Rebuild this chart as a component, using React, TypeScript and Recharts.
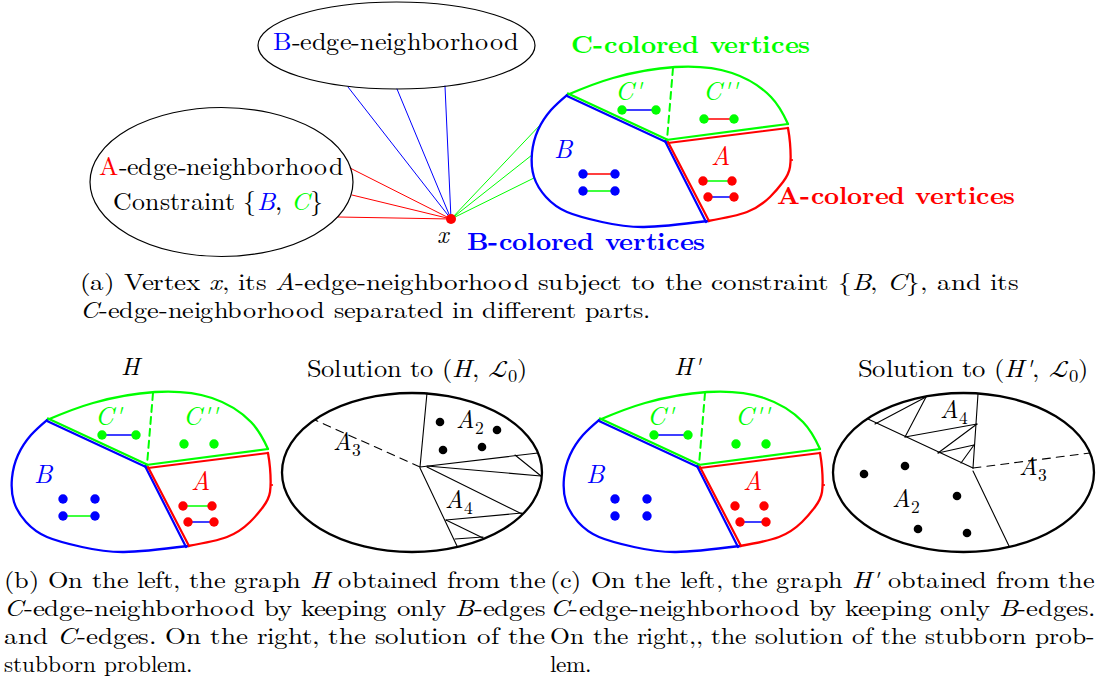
import React from 'react';
import { ComposedChart, Line, Scatter, XAxis, YAxis } from 'recharts';

const W = 1098;
const H = 694;

const RED = '#ff0000';
const BLUE = '#0000ff';
const GREEN = '#00ff00';
const INK = '#000000';
const SERIF = "'LMTight', 'Latin Modern Roman', 'Liberation Serif', serif";
const SERIF_I = "'LMTightI', 'Latin Modern Roman', 'Liberation Serif', serif";
const SERIF_B = "'LMTightB', 'Latin Modern Roman', 'Liberation Serif', serif";
const CALLIG = "'Latin Modern Math', 'Latin Modern Roman', serif";
const COLOR: Record<string, string> = { red: RED, blue: BLUE, green: GREEN, black: INK };

const FONT_CSS = `
@font-face { font-family: 'LMTight'; font-style: normal; font-weight: normal;
  src: local('LMRoman10-Regular'), local('LM Roman 10 Regular'), local('Latin Modern Roman Regular'), local('Latin Modern Roman');
  ascent-override: 88%; descent-override: 24%; line-gap-override: 0%; }
@font-face { font-family: 'LMTightI'; font-style: italic; font-weight: normal;
  src: local('LMRoman10-Italic'), local('LM Roman 10 Italic'), local('Latin Modern Roman Italic');
  ascent-override: 88%; descent-override: 24%; line-gap-override: 0%; }
@font-face { font-family: 'LMTightB'; font-style: normal; font-weight: bold;
  src: local('LMRoman10-Bold'), local('LM Roman 10 Bold'), local('Latin Modern Roman Bold');
  ascent-override: 88%; descent-override: 24%; line-gap-override: 0%; }
`;

// ---------------- panel (a): neighbourhoods of vertex x ----------------
const neighborhoodEllipses = [
  { x: 396.5, y: 45.5, rx: 138.5, ry: 43.5 },
  { x: 221.5, y: 182, rx: 131.5, ry: 74.5 },
];
const vertexX = [{ x: 451, y: 219 }];
const blueEdgeEnds = [[348, 87], [397, 89], [445, 86]];
const redEdgeEnds = [[350, 168], [352, 195], [338, 217]];
const greenEdgeEnds = [[542, 123], [532, 155], [534, 178]];

// ---------------- partitioned C-edge-neighbourhood (panel (a) coords) ----------------
const outlineGreenArc = [[567, 95], [613, 78], [675, 67], [732, 73], [771, 97], [788, 124]];
const outlineRedArc = [[788, 128], [790, 143], [790, 167], [783, 182], [770, 197], [747, 212], [708, 221]];
const outlineBlueArc = [[567, 95], [551, 110], [538, 130], [532, 153], [534, 177], [546, 197], [567, 212], [602, 222], [644, 227], [708, 221]];
const innerBoundaries: { pts: number[][]; c: string }[] = [
  { pts: [[567, 96], [666, 142]], c: 'blue' },
  { pts: [[568, 93.5], [667, 139.5]], c: 'green' },
  { pts: [[666, 140], [788, 124]], c: 'green' },
  { pts: [[668, 143], [788, 128]], c: 'red' },
  { pts: [[665, 141], [706, 222]], c: 'blue' },
  { pts: [[668, 142], [709, 221]], c: 'red' },
];
const dashedDivider = [[673, 68], [667, 140]];
const redTick = [[792, 160]];

const vertices: Record<string, number[]> = {
  c1: [622, 110], c2: [656, 110], c3: [704, 119], c4: [734, 119],
  b1: [583, 174], b2: [615, 174], b3: [583, 191], b4: [615, 191],
  a1: [703, 181], a2: [732, 181], a3: [708, 197], a4: [734, 197],
};
const vertexColor: Record<string, string> = { c: 'green', b: 'blue', a: 'red' };

type Seg = [string, string?];

const regionLabels: { x: number; y: number; segs: Seg[] }[] = [
  { x: 628, y: 100, segs: [["C'", 'iG']] },
  { x: 720, y: 100, segs: [["C''", 'iG']] },
  { x: 563, y: 158, segs: [['B', 'iU']] },
  { x: 720, y: 165, segs: [['A', 'iR']] },
];

const panels: { dx: number; dy: number; edges: string[][] }[] = [
  { dx: 0, dy: 0, edges: [['c1', 'c2', 'blue'], ['c3', 'c4', 'red'], ['b1', 'b2', 'red'], ['b3', 'b4', 'green'], ['a1', 'a2', 'green'], ['a3', 'a4', 'blue']] },
  { dx: -520, dy: 325, edges: [['c1', 'c2', 'blue'], ['b3', 'b4', 'green'], ['a1', 'a2', 'green'], ['a3', 'a4', 'blue']] },
  { dx: 32, dy: 325, edges: [['c1', 'c2', 'blue'], ['a3', 'a4', 'blue']] },
];

// ---------------- solutions of the stubborn problem ----------------
const solutionEllipses = [
  { x: 412, y: 472.5, rx: 130, ry: 79.5 },
  { x: 963.5, y: 472.5, rx: 130.5, ry: 79.5 },
];
const solutionSegments = [
  [[427, 393], [420, 467]],
  [[420, 467], [538, 453]],
  [[427, 466], [541, 476]],
  [[515, 455], [541, 476]],
  [[427, 467], [522, 514]],
  [[420, 468], [457, 546]],
  [[446, 520], [522, 513]],
  [[446, 520], [483, 538]],
  [[455, 539], [483, 537]],
  [[978, 394], [973, 468]],
  [[868, 419], [973, 468]],
  [[973, 471], [1009, 546]],
  [[875, 424], [926, 397]],
  [[926, 397], [905, 437]],
  [[905, 437], [977, 424]],
  [[977, 424], [938, 453]],
  [[938, 453], [974, 445]],
  [[974, 445], [961, 463]],
];
const solutionDashed = [
  [[420, 467], [315, 420]],
  [[973, 468], [1090, 453]],
];
const solutionDots = [
  [440, 422], [497, 430], [443, 450], [482, 447],
  [864, 474], [905, 466], [957, 496], [918, 529], [967, 533],
];
const partLabels = [
  { x: 456, y: 428, name: 'A', idx: '2' },
  { x: 333, y: 450, name: 'A', idx: '3' },
  { x: 445, y: 508, name: 'A', idx: '4' },
  { x: 940, y: 418, name: 'A', idx: '4' },
  { x: 1019, y: 475, name: 'A', idx: '3' },
  { x: 892, y: 507, name: 'A', idx: '2' },
];

// ---------------- texts ----------------
type TextItem = { x: number; y: number; role: string; span?: number; segs: Seg[] };

const boxTexts: TextItem[] = [
  { x: 396, y: 50, role: 'center', span: 246, segs: [['B', 'U'], ['-edge-neighborhood']] },
  { x: 99, y: 175, role: 'box', span: 244, segs: [['A', 'R'], ['-edge-neighborhood']] },
  { x: 113, y: 210, role: 'box', span: 210, segs: [['Constraint {'], ['B', 'iU'], [', '], ['C', 'iG'], ['}']] },
  { x: 443, y: 243, role: 'center', segs: [['x', 'i']] },
  { x: 571, y: 53, role: 'bold', span: 239, segs: [['C-colored vertices', 'G']] },
  { x: 777, y: 204, role: 'bold', span: 238, segs: [['A-colored vertices', 'R']] },
  { x: 467, y: 250, role: 'bold', span: 238, segs: [['B-colored vertices', 'U']] },
  { x: 130, y: 375, role: 'center', segs: [['H', 'i']] },
  { x: 687, y: 375, role: 'center', segs: [["H'", 'i']] },
  { x: 307, y: 377, role: 'title', span: 220, segs: [['Solution to ('], ['H', 'i'], [', '], ['ℒ', 'L'], ['0', '_'], [')']] },
  { x: 858, y: 377, role: 'title', span: 230, segs: [['Solution to ('], ["H'", 'i'], [', '], ['ℒ', 'L'], ['0', '_'], [')']] },
];

const captionLines: TextItem[] = [
  { x: 80, y: 290, role: 'caption', span: 938, segs: [['(a) Vertex '], ['x', 'i'], [', its '], ['A', 'i'], ['-edge-neighborhood subject to the constraint {'], ['B', 'i'], [', '], ['C', 'i'], ['}, and its']] },
  { x: 80, y: 318, role: 'caption', span: 570, segs: [['C', 'i'], ['-edge-neighborhood separated in different parts.']] },
  { x: 4, y: 588, role: 'caption', span: 541, segs: [['(b) On the left, the graph '], ['H', 'i'], [' obtained from the']] },
  { x: 4, y: 616, role: 'caption', span: 541, segs: [['C', 'i'], ['-edge-neighborhood by keeping only '], ['B', 'i'], ['-edges']] },
  { x: 4, y: 644, role: 'caption', span: 541, segs: [['and '], ['C', 'i'], ['-edges. On the right, the solution of the']] },
  { x: 4, y: 672, role: 'caption', segs: [['stubborn problem.']] },
  { x: 550, y: 588, role: 'caption', span: 544, segs: [['(c) On the left, the graph '], ["H'", 'i'], [' obtained from the']] },
  { x: 550, y: 616, role: 'caption', span: 545, segs: [['C', 'i'], ['-edge-neighborhood by keeping only '], ['B', 'i'], ['-edges.']] },
  { x: 550, y: 644, role: 'caption', span: 545, segs: [['On the right,, the solution of the stubborn prob-']] },
  { x: 550, y: 672, role: 'caption', segs: [['lem.']] },
];

const ROLE: Record<string, { size: number; bold?: boolean; anchor: 'start' | 'middle' }> = {
  box: { size: 25, anchor: 'start' },
  center: { size: 25, anchor: 'middle' },
  bold: { size: 25, bold: true, anchor: 'start' },
  title: { size: 24, anchor: 'start' },
  caption: { size: 23.3, anchor: 'start' },
  region: { size: 26, anchor: 'middle' },
  part: { size: 25, anchor: 'start' },
};

const codeColor = (code: string) =>
  code.includes('R') ? RED : code.includes('U') ? BLUE : code.includes('G') ? GREEN : undefined;

function Rich({ x, y, segs, role, span }: { x: number; y: number; segs: Seg[]; role: string; span?: number }) {
  const st = ROLE[role];
  const base = st.bold ? SERIF_B : SERIF;
  let shift = 0;
  const kids = segs.map(([t, code = ''], i) => {
    const isSub = code.includes('_');
    const italic = code.includes('i');
    const target = isSub ? st.size * 0.22 : 0;
    const dy = target - shift;
    shift = target;
    return (
      <tspan
        key={i}
        dy={dy !== 0 ? dy : undefined}
        fill={codeColor(code)}
        fontStyle={italic ? 'italic' : 'normal'}
        fontWeight={st.bold ? 'bold' : 'normal'}
        fontFamily={code.includes('L') ? CALLIG : italic ? SERIF_I : base}
        fontSize={isSub ? st.size * 0.7 : st.size}
      >
        {t}
      </tspan>
    );
  });
  return (
    <text
      x={x}
      y={y}
      textAnchor={st.anchor}
      textLength={span}
      lengthAdjust={span ? 'spacingAndGlyphs' : undefined}
      fontFamily={base}
      fontSize={st.size}
      fontWeight={st.bold ? 'bold' : 'normal'}
      fill={INK}
      style={{ whiteSpace: 'pre' }}
    >
      {kids}
    </text>
  );
}

const toPts = (arr: number[][], dx = 0, dy = 0) => arr.map(([x, y]) => ({ x: x + dx, y: y + dy }));

function seg(key: string, data: { x: number; y: number }[], stroke: string, width: number, type: any = 'linear', dash?: string) {
  return (
    <Line
      key={key}
      data={data}
      dataKey="y"
      type={type}
      stroke={stroke}
      strokeWidth={width}
      strokeDasharray={dash}
      dot={false}
      activeDot={false}
      isAnimationActive={false}
      legendType="none"
      strokeLinecap="round"
      strokeLinejoin="round"
    />
  );
}

export default function App() {
  const under: React.ReactElement[] = [];
  const over: React.ReactElement[] = [];

  blueEdgeEnds.forEach((p, i) => under.push(seg(`be${i}`, toPts([[vertexX[0].x, vertexX[0].y], p]), BLUE, 1)));
  redEdgeEnds.forEach((p, i) => under.push(seg(`re${i}`, toPts([[vertexX[0].x, vertexX[0].y], p]), RED, 1)));
  greenEdgeEnds.forEach((p, i) => under.push(seg(`ge${i}`, toPts([[vertexX[0].x, vertexX[0].y], p]), GREEN, 1)));

  const dotData: { x: number; y: number; id: string }[] = [];
  const tickData: { x: number; y: number }[] = [];
  const regionData: { x: number; y: number; segs: Seg[] }[] = [];

  panels.forEach((p, k) => {
    under.push(seg(`ga${k}`, toPts(outlineGreenArc, p.dx, p.dy), GREEN, 2.3, 'natural'));
    under.push(seg(`ra${k}`, toPts(outlineRedArc, p.dx, p.dy), RED, 2.3, 'natural'));
    under.push(seg(`ba${k}`, toPts(outlineBlueArc, p.dx, p.dy), BLUE, 2.3, 'natural'));
    innerBoundaries.forEach((b, j) => under.push(seg(`ib${k}-${j}`, toPts(b.pts, p.dx, p.dy), COLOR[b.c], 2.2)));
    under.push(seg(`dd${k}`, toPts(dashedDivider, p.dx, p.dy), GREEN, 2, 'linear', '7 5'));
    p.edges.forEach(([u, v, c], j) =>
      over.push(seg(`ed${k}-${j}`, toPts([vertices[u], vertices[v]], p.dx, p.dy), COLOR[c], 1.3)),
    );
    Object.entries(vertices).forEach(([id, [x, y]]) => dotData.push({ x: x + p.dx, y: y + p.dy, id }));
    redTick.forEach(([x, y]) => tickData.push({ x: x + p.dx, y: y + p.dy }));
    regionLabels.forEach((r) => regionData.push({ x: r.x + p.dx, y: r.y + p.dy, segs: r.segs }));
  });

  solutionSegments.forEach((s, i) => under.push(seg(`ss${i}`, toPts(s), INK, 1.1)));
  solutionDashed.forEach((s, i) => under.push(seg(`sd${i}`, toPts(s), INK, 1.1, 'linear', '8 6')));

  return (
    <div style={{ position: 'absolute', left: 0, top: 0, width: W, height: H, background: '#ffffff' }}>
      <style>{FONT_CSS}</style>
      <ComposedChart width={W} height={H} margin={{ top: 0, right: 0, bottom: 0, left: 0 }}>
        <XAxis type="number" dataKey="x" domain={[0, W]} hide allowDataOverflow />
        <YAxis type="number" dataKey="y" domain={[0, H]} reversed hide allowDataOverflow />

        <Scatter
          data={neighborhoodEllipses}
          isAnimationActive={false}
          shape={(pr: any) => (
            <ellipse cx={pr.cx} cy={pr.cy} rx={pr.payload.rx} ry={pr.payload.ry} fill="none" stroke={INK} strokeWidth={1.2} />
          )}
        />
        <Scatter
          data={solutionEllipses}
          isAnimationActive={false}
          shape={(pr: any) => (
            <ellipse cx={pr.cx} cy={pr.cy} rx={pr.payload.rx} ry={pr.payload.ry} fill="none" stroke={INK} strokeWidth={2.3} />
          )}
        />

        {under}
        {over}

        <Scatter
          data={dotData}
          isAnimationActive={false}
          shape={(pr: any) => <circle cx={pr.cx} cy={pr.cy} r={4.7} fill={COLOR[vertexColor[pr.payload.id[0]]]} />}
        />
        <Scatter
          data={tickData}
          isAnimationActive={false}
          shape={(pr: any) => <circle cx={pr.cx} cy={pr.cy} r={1.1} fill={RED} />}
        />
        <Scatter
          data={toPts(solutionDots)}
          isAnimationActive={false}
          shape={(pr: any) => <circle cx={pr.cx} cy={pr.cy} r={4.3} fill={INK} />}
        />
        <Scatter
          data={vertexX}
          isAnimationActive={false}
          shape={(pr: any) => <circle cx={pr.cx} cy={pr.cy} r={5} fill={RED} />}
        />

        <Scatter
          data={regionData}
          isAnimationActive={false}
          shape={(pr: any) => <Rich x={pr.cx} y={pr.cy} segs={pr.payload.segs} role="region" />}
        />
        <Scatter
          data={partLabels}
          isAnimationActive={false}
          shape={(pr: any) => (
            <Rich x={pr.cx} y={pr.cy} segs={[[pr.payload.name, 'i'], [pr.payload.idx, '_']]} role="part" />
          )}
        />
        <Scatter
          data={boxTexts}
          isAnimationActive={false}
          shape={(pr: any) => <Rich x={pr.cx} y={pr.cy} segs={pr.payload.segs} role={pr.payload.role} span={pr.payload.span} />}
        />
        <Scatter
          data={captionLines}
          isAnimationActive={false}
          shape={(pr: any) => <Rich x={pr.cx} y={pr.cy} segs={pr.payload.segs} role={pr.payload.role} span={pr.payload.span} />}
        />
      </ComposedChart>
    </div>
  );
}
